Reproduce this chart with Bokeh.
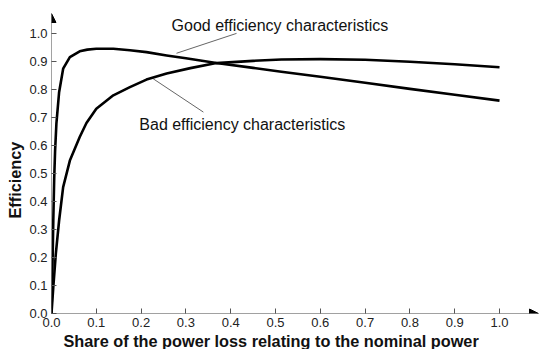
from bokeh.plotting import figure
from bokeh.models import Range1d, FixedTicker, Label, Arrow, NormalHead, Title
from bokeh.embed import file_html
from bokeh.resources import INLINE

# ---- data ----
good_x = [0.0, 0.002, 0.004, 0.006, 0.008, 0.011, 0.017, 0.026, 0.041, 0.063, 0.08, 0.10,
          0.138, 0.175, 0.212, 0.257, 0.30, 0.368, 0.45, 0.513, 0.60, 0.70, 0.80, 0.90, 1.0]
good_y = [0.0, 0.15, 0.33, 0.48, 0.58, 0.68, 0.79, 0.874, 0.915, 0.936, 0.942, 0.945,
          0.945, 0.94, 0.933, 0.921, 0.911, 0.894, 0.877, 0.863, 0.845, 0.824, 0.802, 0.781, 0.760]

bad_x = [0.0, 0.004, 0.0097, 0.017, 0.026, 0.041, 0.063, 0.078, 0.10, 0.138, 0.175,
         0.212, 0.257, 0.31, 0.368, 0.45, 0.513, 0.60, 0.70, 0.80, 0.90, 1.0]
bad_y = [0.0, 0.094, 0.214, 0.332, 0.451, 0.546, 0.63, 0.68, 0.731, 0.779, 0.808,
         0.835, 0.857, 0.876, 0.894, 0.902, 0.907, 0.908, 0.906, 0.899, 0.89, 0.879]

x_ticks = [0.0, 0.1, 0.2, 0.3, 0.4, 0.5, 0.6, 0.7, 0.8, 0.9, 1.0]
x_tick_labels = ["0.0", "0.1", "0.2", "0.3", "0.4", "0.5", "0.6", "0.7", "0.8", "0.9", "1.0"]
y_ticks = [0.0, 0.1, 0.2, 0.3, 0.4, 0.5, 0.6, 0.7, 0.8, 0.9, 1.0]
y_tick_labels = ["0.0", "0.1", "0.2", "0.3", "0.4", "0.5", "0.6", "0.7", "0.8", "0.9", "1.0"]

good_label = "Good efficiency characteristics"
bad_label = "Bad efficiency characteristics"
x_title = "Share of the power loss relating to the nominal power"
y_title = "Efficiency"

# annotation placement (leader lines: start on curve -> text)
good_leader = ([0.279, 0.413], [0.929, 1.0])
bad_leader = ([0.227, 0.339], [0.838, 0.719])

X_MAX = 1.087
Y_MAX = 1.071
FONT = "Liberation Sans"

p = figure(frame_width=487, frame_height=300, output_backend="svg", toolbar_location=None,
           x_range=Range1d(0, X_MAX), y_range=Range1d(0, Y_MAX),
           min_border_left=50, min_border_right=1, min_border_top=13, min_border_bottom=0)
p.outline_line_color = None
p.xgrid.visible = False
p.ygrid.visible = False
p.background_fill_color = "white"
p.border_fill_color = "white"

for ax, ticks, labels in ((p.xaxis[0], x_ticks, x_tick_labels), (p.yaxis[0], y_ticks, y_tick_labels)):
    ax.ticker = FixedTicker(ticks=ticks)
    ax.major_label_overrides = {t: l for t, l in zip(ticks, labels)}
    ax.axis_line_color = None
    ax.major_tick_in = 5
    ax.major_tick_out = 0
    ax.major_tick_line_color = "#555555"
    ax.minor_tick_line_color = None
    ax.major_label_text_font = FONT
    ax.major_label_text_font_size = "13px"
    ax.major_label_text_color = "#222222"
p.xaxis[0].major_label_standoff = 4
p.yaxis[0].major_label_standoff = 4

# axes as arrows
p.add_layout(Arrow(x_start=0, y_start=0, x_end=X_MAX, y_end=0, line_color="#444444", line_width=1,
                   end=NormalHead(size=9, fill_color="black", line_color="black")))
p.add_layout(Arrow(x_start=0, y_start=0, x_end=0, y_end=Y_MAX, line_color="#444444", line_width=1,
                   end=NormalHead(size=9, fill_color="black", line_color="black")))

# leader lines
p.line(good_leader[0], good_leader[1], line_color="#666666", line_width=1)
p.line(bad_leader[0], bad_leader[1], line_color="#666666", line_width=1)

# curves
p.line(good_x, good_y, line_color="black", line_width=2.6, line_join="round")
p.line(bad_x, bad_y, line_color="black", line_width=2.6, line_join="round")

# annotation texts
p.add_layout(Label(x=0.268, y=1.029, text=good_label, text_font=FONT, text_font_size="16px",
                   text_color="#111111", text_baseline="middle", text_align="left"))
p.add_layout(Label(x=0.196, y=0.675, text=bad_label, text_font=FONT, text_font_size="16px",
                   text_color="#111111", text_baseline="middle", text_align="left"))

# axis titles
p.add_layout(Title(text=x_title, align="left", offset=12, standoff=0, text_font=FONT,
                   text_font_size="16.3px", text_font_style="bold", text_color="#111111"), "below")
p.add_layout(Title(text=y_title, align="left", offset=95, standoff=6, text_font=FONT,
                   text_font_size="16.3px", text_font_style="bold", text_color="#111111"), "left")

open("out.html", "w").write(file_html(p, INLINE))
